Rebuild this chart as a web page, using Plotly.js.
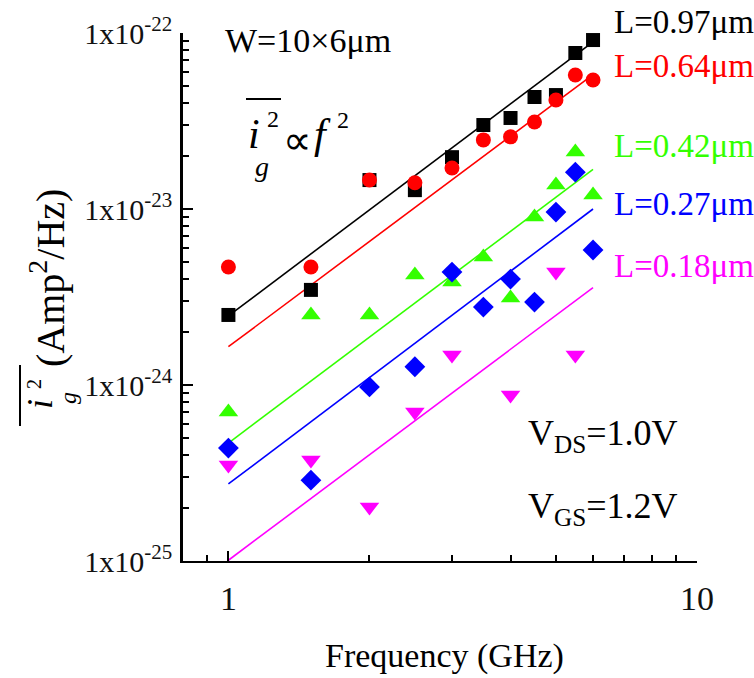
<!DOCTYPE html>
<html>
<head>
<meta charset="utf-8">
<script src="https://cdn.plot.ly/plotly-3.0.1.min.js"></script>
<style>
html,body{margin:0;padding:0;background:#fff;}
#chart{width:754px;height:678px;}
</style>
</head>
<body>
<div id="chart"></div>
<script>
// ---- data ----
const freq = [1, 1.5, 2, 2.5, 3, 3.5, 4, 4.5, 5, 5.5, 6];
const noiseL097 = [2.50e-24, 3.47e-24, 1.46e-23, 1.28e-23, 1.97e-23, 3.0e-23, 3.29e-23, 4.33e-23, 4.44e-23, 7.7e-23, 9.12e-23];
const noiseL064 = [4.68e-24, 4.68e-24, 1.46e-23, 1.41e-23, 1.71e-23, 2.47e-23, 2.57e-23, 3.12e-23, 4.16e-23, 5.77e-23, 5.41e-23];
const noiseL042 = [7.03e-25, 2.50e-24, 2.50e-24, 4.22e-24, 3.85e-24, 5.33e-24, 3.12e-24, 9.0e-24, 1.37e-23, 2.11e-23, 1.20e-23];
const noiseL027 = [4.38e-25, 2.88e-25, 9.75e-25, 1.27e-24, 4.38e-24, 2.77e-24, 4.0e-24, 2.96e-24, 9.6e-24, 1.62e-23, 5.85e-24];
const freqL018 = [1, 1.5, 2, 2.5, 3, 4, 5, 5.5];
const noiseL018 = [3.51e-25, 3.75e-25, 2.03e-25, 7.03e-25, 1.48e-24, 8.77e-25, 4.38e-24, 1.48e-24];

// f^2 fit lines: values read at 1 GHz and 6 GHz
const fitFreq = [1, 6];
const fitL097 = [2.47e-24, 8.9e-23];
const fitL064 = [1.65e-24, 5.8e-23];
const fitL042 = [4.68e-25, 1.68e-23];
const fitL027 = [2.74e-25, 1.0e-23];
const fitL018 = [1.01e-25, 3.58e-24];

const seriesLabels = ['L=0.97\u03bcm', 'L=0.64\u03bcm', 'L=0.42\u03bcm', 'L=0.27\u03bcm', 'L=0.18\u03bcm'];
const seriesColors = ['#000000', '#ff0000', '#33ff00', '#0000ff', '#ff00ff'];
const seriesSymbols = ['square', 'circle', 'triangle-up', 'diamond', 'triangle-down'];
const seriesSizes = [14, 15, 17, 16, 17];

const yTickVals = [1e-25, 1e-24, 1e-23, 1e-22];
const yTickText = ['1x10<sup>-25</sup>', '1x10<sup>-24</sup>', '1x10<sup>-23</sup>', '1x10<sup>-22</sup>'];
const xTickVals = [1, 10];
const xTickText = ['1', '10'];

// ---- chart ----
const FONT = 'Liberation Serif, Times New Roman, serif';
const PL = 183, PT = 33, PW = 514, PH = 528;
const px = x => (x - PL) / PW;
const py = y => (PT + PH - y) / PH;

const xs = [freq, freq, freq, freq, freqL018];
const ys = [noiseL097, noiseL064, noiseL042, noiseL027, noiseL018];
const fits = [fitL097, fitL064, fitL042, fitL027, fitL018];

const traces = [];
fits.forEach((f, i) => traces.push({
  x: fitFreq, y: f, type: 'scatter', mode: 'lines',
  line: {color: seriesColors[i], width: 1.6}, hoverinfo: 'skip', showlegend: false
}));
ys.forEach((y, i) => traces.push({
  x: xs[i], y: y, type: 'scatter', mode: 'markers', name: seriesLabels[i],
  marker: {symbol: seriesSymbols[i], size: seriesSizes[i], color: seriesColors[i], line: {width: 0}},
  showlegend: false
}));

const ann = (x, y, text, size, opts = {}) => Object.assign({
  xref: 'paper', yref: 'paper', x: px(x), y: py(y), text: text, showarrow: false,
  xanchor: 'center', yanchor: 'middle', font: {family: FONT, size: size, color: '#000'}
}, opts);

const labelY = [22, 66, 146, 204, 266];
const annotations = [
  ann(308, 41, 'W=10\u00d76\u03bcm', 34),
  // in-plot formula  i_g^2 ∝ f^2
  ann(254, 134, '<i>i</i>', 42),
  ann(262, 166, '<i>g</i>', 28),
  ann(273, 119, '2', 24),
  ann(297, 140, '\u221d', 40),
  ann(322, 134, '<i>f</i>', 42),
  ann(343, 120, '2', 24),
  // bias conditions
  ann(526, 436, 'V<sub>DS</sub>=1.0V', 36, {xanchor: 'left'}),
  ann(526, 508, 'V<sub>GS</sub>=1.2V', 36, {xanchor: 'left'}),
  // y title (rotated)
  ann(47, 278, '(Amp<sup>2</sup>/Hz)', 40, {textangle: -90}),
  ann(40, 404, '<i>i</i>', 36, {textangle: -90}),
  ann(34, 384, '2', 20, {textangle: -90}),
  ann(68, 398, '<i>g</i>', 24, {textangle: -90}),
  // x title
  ann(444, 656, 'Frequency (GHz)', 34)
];
seriesLabels.forEach((t, i) => annotations.push(
  ann(612, labelY[i], t, 33, {xanchor: 'left', font: {family: FONT, size: 33, color: seriesColors[i]}})
));

const shapes = [
  {type: 'line', xref: 'paper', yref: 'paper', x0: px(246), x1: px(281), y0: py(99), y1: py(99), line: {color: '#000', width: 2}},
  {type: 'line', xref: 'paper', yref: 'paper', x0: px(20), x1: px(20), y0: py(365), y1: py(426), line: {color: '#000', width: 2}}
];

const minorX = [0.9, 2, 3, 4, 5, 6, 7, 8, 9];
const minorY = [];
[-25, -24, -23].forEach(e => { for (let k = 2; k <= 9; k++) minorY.push(k * Math.pow(10, e)); });

const layout = {
  width: 754, height: 678,
  margin: {l: PL, r: 754 - PL - PW, t: PT, b: 678 - PT - PH, pad: 0},
  paper_bgcolor: '#fff', plot_bgcolor: '#fff',
  showlegend: false,
  font: {family: FONT, color: '#000'},
  xaxis: {
    type: 'log', range: [Math.log10(0.8), 1], showgrid: false, zeroline: false,
    showline: true, linecolor: '#000', linewidth: 2,
    ticks: 'inside', ticklen: 10, tickwidth: 2, tickcolor: '#000',
    tickmode: 'array', tickvals: xTickVals, ticktext: xTickText,
    tickfont: {family: FONT, size: 34, color: '#111'}, ticklabelstandoff: 6,
    minor: {ticks: 'inside', ticklen: 6, tickwidth: 1.5, tickcolor: '#000', tickmode: 'array', tickvals: minorX, showgrid: false}
  },
  yaxis: {
    type: 'log', range: [-25, -22], showgrid: false, zeroline: false,
    showline: true, linecolor: '#000', linewidth: 2.5,
    ticks: 'inside', ticklen: 10, tickwidth: 2, tickcolor: '#000',
    tickmode: 'array', tickvals: yTickVals, ticktext: yTickText,
    tickfont: {family: FONT, size: 30, color: '#111'}, ticklabelstandoff: 2,
    minor: {ticks: 'inside', ticklen: 6, tickwidth: 1.5, tickcolor: '#000', tickmode: 'array', tickvals: minorY, showgrid: false}
  },
  annotations: annotations,
  shapes: shapes
};

Plotly.newPlot('chart', traces, layout, {displayModeBar: false});
</script>
</body>
</html>
